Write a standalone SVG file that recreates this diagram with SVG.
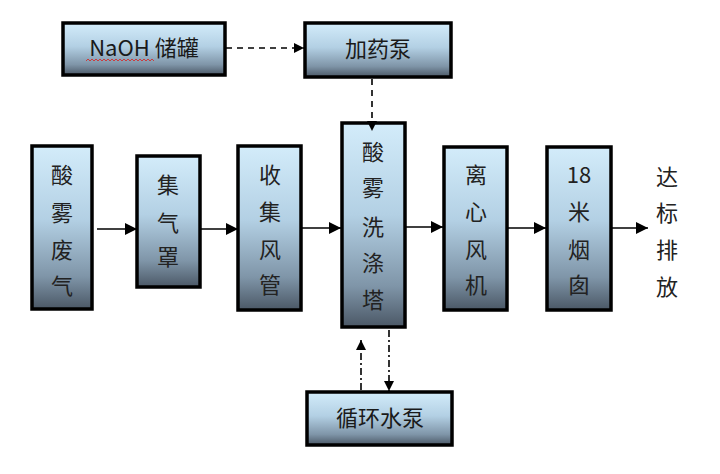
<svg xmlns="http://www.w3.org/2000/svg" width="720" height="474" viewBox="0 0 720 474">
<defs>
<linearGradient id="g" x1="0" y1="0" x2="0" y2="1">
<stop offset="0" stop-color="#d3ecfa"/>
<stop offset="0.45" stop-color="#b3d0e4"/>
<stop offset="0.8" stop-color="#7f95a8"/>
<stop offset="1" stop-color="#4b5866"/>
</linearGradient>
<marker id="ah" viewBox="0 0 10 10" refX="10" refY="5" markerWidth="10" markerHeight="10" markerUnits="userSpaceOnUse" orient="auto">
<path d="M0,0 L10,5 L0,10 Z" fill="#000"/>
</marker>
<marker id="ahs" viewBox="0 0 10 10" refX="10" refY="5" markerWidth="12" markerHeight="12" markerUnits="userSpaceOnUse" orient="auto">
<path d="M0,0 L10,5 L0,10 Z" fill="#000"/>
</marker>
</defs>
<style>
.box{fill:url(#g);stroke:#000;stroke-width:3.5}
.t{font-family:"Noto Sans CJK SC","Liberation Sans",sans-serif;font-size:22px;fill:#222;text-anchor:middle}
.p{font-family:"Noto Sans CJK SC","Liberation Sans",sans-serif;font-size:22px;fill:#1a1a1a;text-anchor:middle}
.c{stroke:#000;stroke-width:1.6;fill:none}
.d{stroke-dasharray:6,5}
.dd{stroke-dasharray:7,3,2,3}
</style>
<rect width="720" height="474" fill="#fff"/>
<g id="naoh">
<rect class="box" x="63" y="23" width="162" height="52"/>
<text class="p" x="144" y="56">NaOH 储罐</text>
<path d="M86,61 l2,-2 l2,2 l2,-2 l2,2 l2,-2 l2,2 l2,-2 l2,2 l2,-2 l2,2 l2,-2 l2,2 l2,-2 l2,2 l2,-2 l2,2 l2,-2 l2,2 l2,-2 l2,2 l2,-2 l2,2 l2,-2 l2,2 l2,-2 l2,2 l2,-2 l2,2 l2,-2 l2,2 l2,-2 l2,2 l2,-2 l2,2" fill="none" stroke="#d03030" stroke-width="0.9"/>
</g>
<g id="pump">
<rect class="box" x="305" y="23" width="146" height="54"/>
<text class="p" x="378" y="57">加药泵</text>
</g>
<g id="acidgas">
<rect class="box" x="32" y="146" width="60" height="163"/>
<text class="t" x="62" y="183">酸</text>
<text class="t" x="62" y="221">雾</text>
<text class="t" x="62" y="258">废</text>
<text class="t" x="62" y="294">气</text>
</g>
<g id="hood">
<rect class="box" x="137" y="156" width="63" height="131"/>
<text class="t" x="168" y="193">集</text>
<text class="t" x="168" y="231">气</text>
<text class="t" x="168" y="265">罩</text>
</g>
<g id="duct">
<rect class="box" x="238" y="146" width="63" height="164"/>
<text class="t" x="270" y="183">收</text>
<text class="t" x="270" y="220">集</text>
<text class="t" x="270" y="258">风</text>
<text class="t" x="270" y="293">管</text>
</g>
<g id="scrubber">
<rect class="box" x="342" y="123" width="63" height="204"/>
<text class="t" x="373" y="160">酸</text>
<text class="t" x="373" y="196">雾</text>
<text class="t" x="373" y="235">洗</text>
<text class="t" x="373" y="271">涤</text>
<text class="t" x="373" y="308">塔</text>
</g>
<g id="fan">
<rect class="box" x="444" y="147" width="63" height="163"/>
<text class="t" x="476" y="183">离</text>
<text class="t" x="476" y="220">心</text>
<text class="t" x="476" y="258">风</text>
<text class="t" x="476" y="293">机</text>
</g>
<g id="chimney">
<rect class="box" x="547" y="147" width="64" height="163"/>
<text class="t" x="579" y="183">18</text>
<text class="t" x="579" y="220">米</text>
<text class="t" x="579" y="258">烟</text>
<text class="t" x="579" y="293">囱</text>
</g>
<g id="discharge">
<text class="t" x="667" y="185">达</text>
<text class="t" x="667" y="221">标</text>
<text class="t" x="667" y="258">排</text>
<text class="t" x="667" y="295">放</text>
</g>
<g id="circpump">
<rect class="box" x="307" y="392" width="145" height="53"/>
<text class="p" x="380" y="426">循环水泵</text>
</g>
<g id="connectors">
<line class="c" x1="97" y1="229" x2="137" y2="229" marker-end="url(#ahs)"/>
<line class="c" x1="200" y1="229" x2="238" y2="229" marker-end="url(#ahs)"/>
<line class="c" x1="301" y1="228" x2="341" y2="228" marker-end="url(#ahs)"/>
<line class="c" x1="406" y1="227" x2="443" y2="227" marker-end="url(#ahs)"/>
<line class="c" x1="508" y1="228" x2="546" y2="228" marker-end="url(#ahs)"/>
<line class="c" x1="612" y1="228" x2="648" y2="228" marker-end="url(#ahs)"/>
<line class="c d" x1="226" y1="48" x2="304" y2="48" marker-end="url(#ah)"/>
<line class="c d" x1="372" y1="79" x2="372" y2="131" marker-end="url(#ah)"/>
<line class="c dd" x1="361" y1="390" x2="361" y2="340" marker-end="url(#ah)"/>
<line class="c dd" x1="389" y1="330" x2="389" y2="391" marker-end="url(#ah)"/>
</g>
</svg>
